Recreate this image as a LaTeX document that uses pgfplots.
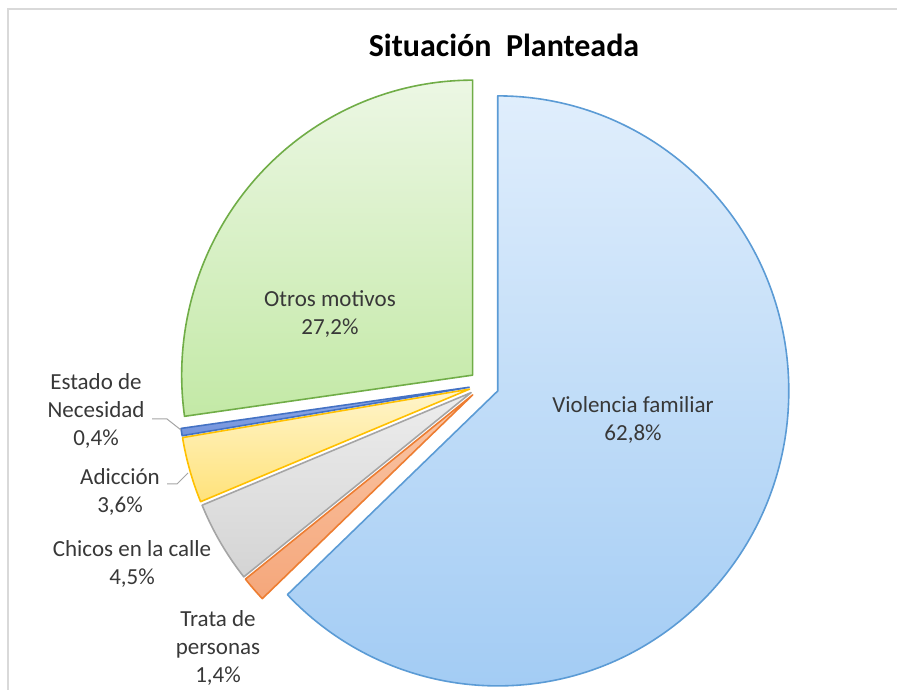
\documentclass[border=0pt]{standalone}
\usepackage{pgfplots}
\pgfplotsset{compat=1.18}
\usepackage{fontspec}
\setmainfont{Carlito}
\definecolor{txt}{HTML}{383838}
\definecolor{frame}{HTML}{D9D9D9}
\definecolor{vTop}{HTML}{E0EEFC}
\definecolor{vBot}{HTML}{A3CCF4}
\definecolor{vEdge}{HTML}{5B9BD5}
\definecolor{tTop}{HTML}{FAC6A6}
\definecolor{tBot}{HTML}{F5A77B}
\definecolor{tEdge}{HTML}{ED7D31}
\definecolor{cTop}{HTML}{EDEDED}
\definecolor{cBot}{HTML}{D4D4D4}
\definecolor{cEdge}{HTML}{A5A5A5}
\definecolor{aTop}{HTML}{FFF5CC}
\definecolor{aBot}{HTML}{FFE27A}
\definecolor{aEdge}{HTML}{FFC000}
\definecolor{eTop}{HTML}{93ADEA}
\definecolor{eBot}{HTML}{7393DC}
\definecolor{eEdge}{HTML}{4472C4}
\definecolor{oTop}{HTML}{ECF7E4}
\definecolor{oBot}{HTML}{C3E9A6}
\definecolor{oEdge}{HTML}{70AD47}
% data (percent)
\def\vViolencia{62.8}
\def\vTrata{1.4}
\def\vChicos{4.5}
\def\vAdiccion{3.6}
\def\vEstado{0.4}
\def\vOtros{27.2}
\pgfmathsetmacro\total{\vViolencia+\vTrata+\vChicos+\vAdiccion+\vEstado+\vOtros}
\pgfmathsetmacro\aA{90}
\pgfmathsetmacro\aB{\aA-\vViolencia/\total*360}
\pgfmathsetmacro\aC{\aB-\vTrata/\total*360}
\pgfmathsetmacro\aD{\aC-\vChicos/\total*360}
\pgfmathsetmacro\aE{\aD-\vAdiccion/\total*360}
\pgfmathsetmacro\aF{\aE-\vEstado/\total*360}
\pgfmathsetmacro\aG{\aF-\vOtros/\total*360}
\newcommand{\slice}[5]{%
  \pgfmathsetmacro\mid{(#1+#2)/2}%
  \pgfmathsetmacro\sx{484+15*cos(\mid)}%
  \pgfmathsetmacro\sy{305+15*sin(\mid)}%
  \pgfmathsetmacro\px{291*cos(#1)}%
  \pgfmathsetmacro\py{295*sin(#1)}%
  \edef\doslice{\noexpand\path[top color=#3,bottom color=#4,draw=#5,line width=1.6pt,line join=round]
    (axis cs:\sx,\sy) -- ++(\px pt,\py pt) arc[start angle=#1,end angle=#2,x radius=291pt,y radius=295pt] -- cycle;}%
  \doslice
}
\begin{document}
\begin{tikzpicture}
\begin{axis}[x=1pt,y=1pt,xmin=0,xmax=897,ymin=0,ymax=690,hide axis,
  scale only axis,clip=true]
\addplot[draw=none] coordinates {(0,0) (897,690)};
\draw[frame,line width=1.5pt] (axis cs:8,-20) -- (axis cs:8,681) -- (axis cs:920,681);
\slice{\aA}{\aB}{vTop}{vBot}{vEdge}
\slice{\aB}{\aC}{tTop}{tBot}{tEdge}
\slice{\aC}{\aD}{cTop}{cBot}{cEdge}
\slice{\aD}{\aE}{aTop}{aBot}{aEdge}
\slice{\aE}{\aF}{eTop}{eBot}{eEdge}
\slice{\aF}{\aG}{oTop}{oBot}{oEdge}
\draw[cEdge,line width=1pt] (axis cs:152,271) -- (axis cs:167,271) -- (axis cs:181,260);
\draw[cEdge,line width=1pt] (axis cs:167,206) -- (axis cs:177,206) -- (axis cs:188,217);
\node[font=\fontsize{32}{38}\selectfont\bfseries,text=black] at (axis cs:504,645) {Situación\ \ Planteada};
\begin{scope}[every node/.style={font=\fontsize{23}{28}\selectfont,text=txt,align=center,inner sep=0pt}]
\node at (axis cs:330,376) {Otros motivos\\27,2\%};
\node at (axis cs:633,270) {Violencia familiar\\62,8\%};
\node at (axis cs:96,279) {Estado de\\Necesidad\\0,4\%};
\node at (axis cs:120,198) {Adicción\\3,6\%};
\node at (axis cs:132,126) {Chicos en la calle\\4,5\%};
\node at (axis cs:218,42) {Trata de\\personas\\1,4\%};
\end{scope}
\end{axis}
\pgfresetboundingbox
\path[use as bounding box] (current axis.south west) rectangle (current axis.north east);
\end{tikzpicture}
\end{document}
